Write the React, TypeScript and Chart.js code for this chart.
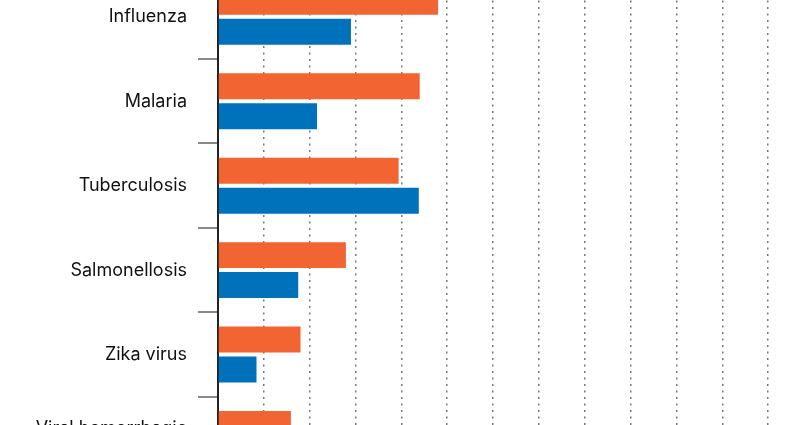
import React, { useEffect, useRef } from "react";
import { Chart, registerables } from "chart.js";

Chart.register(...registerables);

const categories: (string | string[])[] = [
  "Influenza",
  "Malaria",
  "Tuberculosis",
  "Salmonellosis",
  "Zika virus",
  ["Viral hemorrhagic", "fever"],
];
const orangeValues = [4.8, 4.4, 3.94, 2.79, 1.8, 1.59];
const blueValues = [2.9, 2.16, 4.38, 1.75, 0.84, 0.55];
const xMax = 13;

export default function App() {
  const ref = useRef<HTMLCanvasElement | null>(null);
  useEffect(() => {
    if (!ref.current) return;
    const chart = new Chart(ref.current, {
      type: "bar",
      data: {
        labels: categories,
        datasets: [
          {
            data: orangeValues,
            backgroundColor: "#F26533",
            categoryPercentage: 0.71,
            barPercentage: 0.867,
          },
          {
            data: blueValues,
            backgroundColor: "#0072BC",
            categoryPercentage: 0.71,
            barPercentage: 0.867,
          },
        ],
      },
      options: {
        indexAxis: "y",
        animation: false,
        responsive: false,
        maintainAspectRatio: false,
        layout: { padding: 0 },
        plugins: { legend: { display: false }, tooltip: { enabled: false } },
        scales: {
          x: {
            min: 0,
            max: xMax,
            ticks: { display: false, stepSize: 1 },
            border: { display: false, dash: [2, 4.5] },
            grid: {
              drawTicks: false,
              color: "#777",
              lineWidth: 1.5,
            },
            afterFit: (s: any) => {
              s.height = 0;
            },
          },
          y: {
            z: 1,
            border: { display: true, color: "#222", width: 2 },
            grid: {
              drawOnChartArea: false,
              drawTicks: true,
              tickLength: 20,
              color: "#888",
              lineWidth: 2,
            },
            ticks: {
              padding: 11,
              color: "#111",
              font: { family: "Inter", size: 18 },
            },
            afterFit: (s: any) => {
              s.width = 218;
            },
          },
        },
      },
    });
    return () => chart.destroy();
  }, []);
  return (
    <div
      style={{
        position: "fixed",
        left: 0,
        top: 0,
        width: 800,
        height: 425,
        overflow: "hidden",
        background: "#fff",
      }}
    >
      <div style={{ position: "absolute", left: 0, top: -58, width: 814, height: 561 }}>
        <canvas ref={ref} width={814} height={561} style={{ width: 814, height: 561 }} />
      </div>
    </div>
  );
}
